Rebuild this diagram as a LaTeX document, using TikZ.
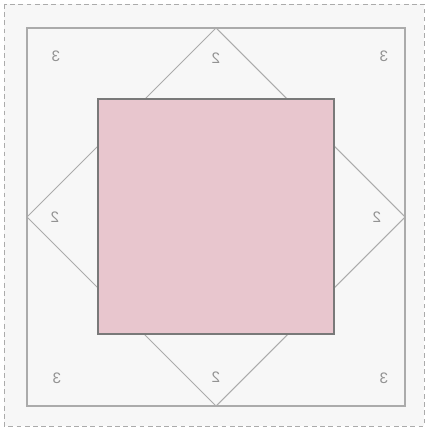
\documentclass[tikz,border=0pt]{standalone}
\usepackage{fontspec}
\setmainfont{Liberation Sans}
\definecolor{blockpink}{HTML}{E8C6CE}
\definecolor{seamgray}{HTML}{ABABAB}
\definecolor{paper}{HTML}{F7F7F7}
\tikzset{
  seam/.style={draw=seamgray, line width=0.9pt},
  piece/.style={text=gray!85, font=\fontsize{13}{15}\selectfont, xscale=-1, inner sep=0pt}
}
\begin{document}
\begin{tikzpicture}[x=0.03cm,y=-0.03cm]
\useasboundingbox (0,0) rectangle (427,430);
\draw [seamgray, dashed, dash pattern=on 4pt off 3pt, fill=paper, line width=0.7pt]
  (4,4) rectangle (424,426);
\draw [seam] (27,28) coordinate (nw) rectangle (405,406) coordinate (se);
\coordinate (top) at (216,28);
\coordinate (right) at (405,217);
\coordinate (bottom) at (216,406);
\coordinate (left) at (27,217);
\draw [seam] (top) -- (right) -- (bottom) -- (left) -- cycle;
\draw [fill=blockpink, draw=gray!95!black, line width=1.1pt] (98,99) rectangle (334,334);
\node [piece] (c1) at (56,56) {3};
\node [piece] (c2) at (384,56) {3};
\node [piece] (c3) at (57,378) {3};
\node [piece] (c4) at (384,378) {3};
\node [piece] (t1) at (216,58) {2};
\node [piece] (t2) at (55,217) {2};
\node [piece] (t3) at (377,217) {2};
\node [piece] (t4) at (216,377) {2};
\end{tikzpicture}
\end{document}
